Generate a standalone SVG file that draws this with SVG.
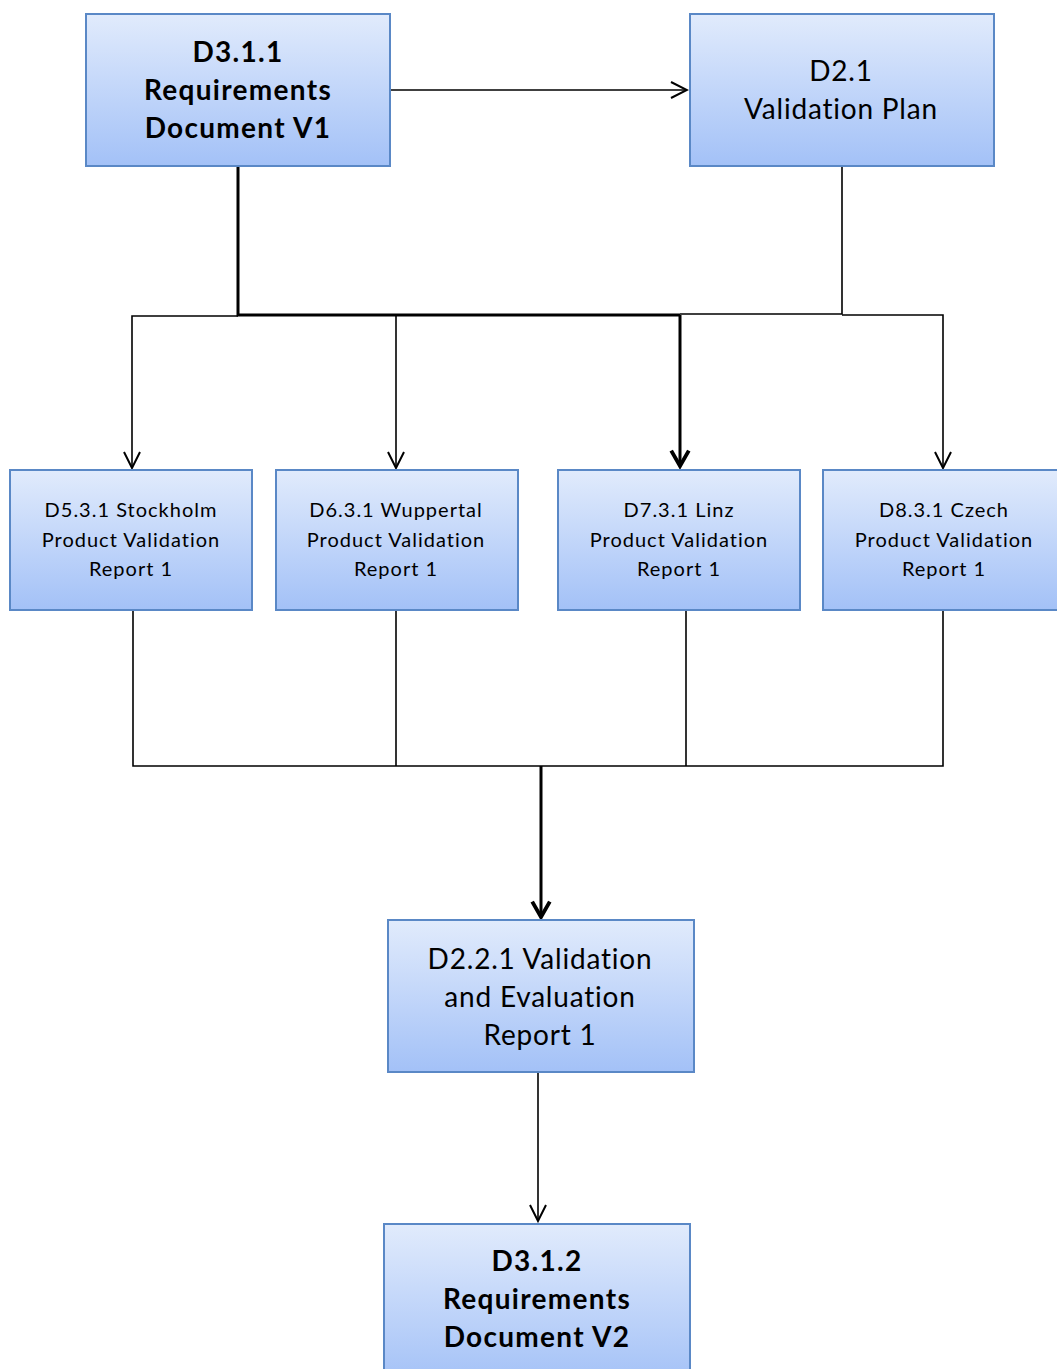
<svg xmlns="http://www.w3.org/2000/svg" width="1057" height="1369" viewBox="0 0 1057 1369">
<defs>
<linearGradient id="g" x1="0" y1="0" x2="0" y2="1">
<stop offset="0" stop-color="#e1ebfc"/>
<stop offset="1" stop-color="#a3c1f7"/>
</linearGradient>
<marker id="a" viewBox="0 0 20 20" refX="18" refY="10" markerWidth="20" markerHeight="20" markerUnits="userSpaceOnUse" orient="auto">
<path d="M2,2 L18,10 L2,18" fill="none" stroke="#000" stroke-width="2"/>
</marker>
<marker id="ab" viewBox="0 0 20 20" refX="17" refY="10" markerWidth="22" markerHeight="22" markerUnits="userSpaceOnUse" orient="auto">
<path d="M3,2 L17,10 L3,18" fill="none" stroke="#000" stroke-width="3.5"/>
</marker>
</defs>
<style>
.box{fill:url(#g);stroke:#5a88c6;stroke-width:2}
.t{font-family:Lato,"Open Sans","Liberation Sans",sans-serif;text-anchor:middle;fill:#000}
.big{font-size:28px;letter-spacing:0.8px}
.b{font-weight:bold;letter-spacing:1.3px}
.sm{font-size:20px;letter-spacing:1px}
.c{fill:none;stroke:#000;stroke-width:1.6}
.k{fill:none;stroke:#000;stroke-width:3}
</style>
<g id="connectors">
<path class="c" d="M390,90 H687" marker-end="url(#a)"/>
<path class="k" d="M238,166 V315 H680"/>
<path class="c" d="M238,316 H132 V468" marker-end="url(#a)"/>
<path class="c" d="M396,316 V468" marker-end="url(#a)"/>
<path class="k" d="M680,315 V466" marker-end="url(#ab)"/>
<path class="c" d="M842,166 V314 H680"/>
<path class="c" d="M842,315 H943 V468" marker-end="url(#a)"/>
<path class="c" d="M133,610 V766 H943 V610"/>
<path class="c" d="M396,610 V766"/>
<path class="c" d="M686,610 V766"/>
<path class="k" d="M541,766 V917" marker-end="url(#ab)"/>
<path class="c" d="M538,1072 V1221" marker-end="url(#a)"/>
</g>
<g id="n1">
<rect class="box" x="86" y="14" width="304" height="152"/>
<text class="t big b" x="238" y="62">D3.1.1</text>
<text class="t big b" x="238" y="100">Requirements</text>
<text class="t big b" x="238" y="138">Document V1</text>
</g>
<g id="n2">
<rect class="box" x="690" y="14" width="304" height="152"/>
<text class="t big" x="841" y="81">D2.1</text>
<text class="t big" x="841" y="119">Validation Plan</text>
</g>
<g id="n3">
<rect class="box" x="10" y="470" width="242" height="140"/>
<text class="t sm" x="131" y="517">D5.3.1 Stockholm</text>
<text class="t sm" x="131" y="547">Product Validation</text>
<text class="t sm" x="131" y="576">Report 1</text>
</g>
<g id="n4">
<rect class="box" x="276" y="470" width="242" height="140"/>
<text class="t sm" x="396" y="517">D6.3.1 Wuppertal</text>
<text class="t sm" x="396" y="547">Product Validation</text>
<text class="t sm" x="396" y="576">Report 1</text>
</g>
<g id="n5">
<rect class="box" x="558" y="470" width="242" height="140"/>
<text class="t sm" x="679" y="517">D7.3.1 Linz</text>
<text class="t sm" x="679" y="547">Product Validation</text>
<text class="t sm" x="679" y="576">Report 1</text>
</g>
<g id="n6">
<rect class="box" x="823" y="470" width="244" height="140"/>
<text class="t sm" x="944" y="517">D8.3.1 Czech</text>
<text class="t sm" x="944" y="547">Product Validation</text>
<text class="t sm" x="944" y="576">Report 1</text>
</g>
<g id="n7">
<rect class="box" x="388" y="920" width="306" height="152"/>
<text class="t big" x="540" y="969">D2.2.1 Validation</text>
<text class="t big" x="540" y="1007">and Evaluation</text>
<text class="t big" x="540" y="1045">Report 1</text>
</g>
<g id="n8">
<rect class="box" x="384" y="1224" width="306" height="160"/>
<text class="t big b" x="537" y="1271">D3.1.2</text>
<text class="t big b" x="537" y="1309">Requirements</text>
<text class="t big b" x="537" y="1347">Document V2</text>
</g>
</svg>
